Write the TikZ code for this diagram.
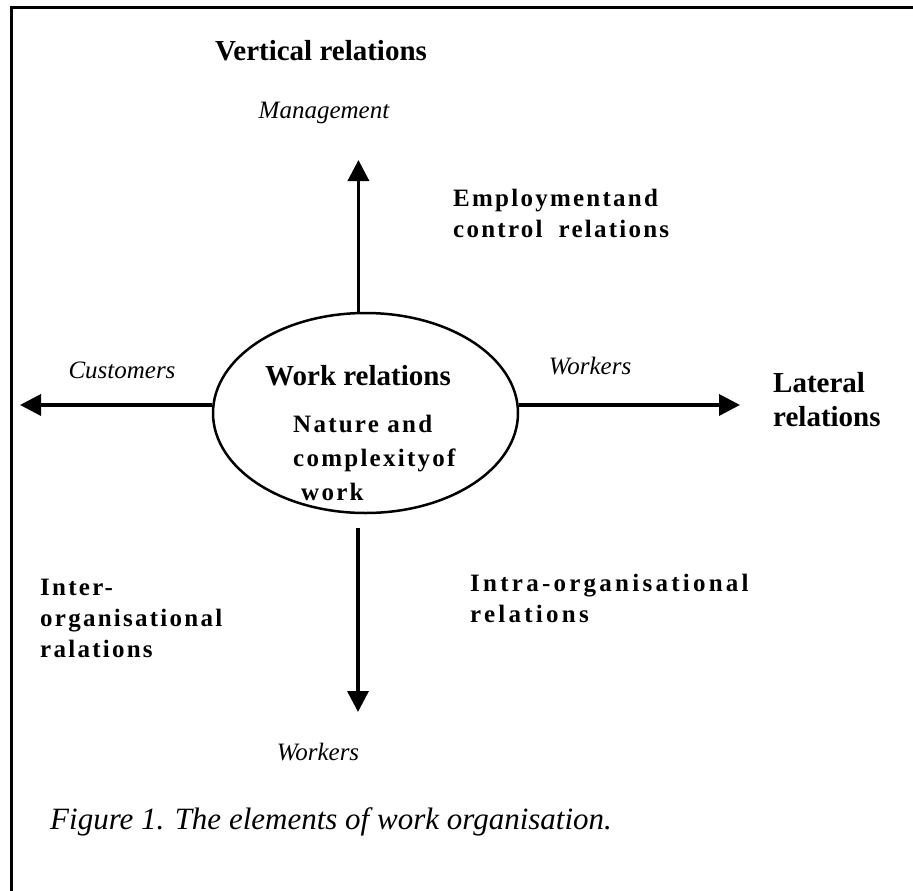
\documentclass[tikz,border=0pt]{standalone}
\usepackage{fontspec}
\setmainfont{Liberation Serif}
\newfontfamily\spacedfont{Liberation Serif}[LetterSpace=9]
\newfontfamily\widefont{Liberation Serif}[LetterSpace=13]
\usepackage{tikz}
\usetikzlibrary{shapes.geometric, arrows.meta, positioning, calc}

\begin{document}
\begin{tikzpicture}[
  x=1pt, y=-1pt,
  heading/.style={font=\fontsize{29}{34}\selectfont\bfseries, inner sep=0pt, align=left},
  party/.style={font=\fontsize{25}{30}\selectfont\itshape, inner sep=0pt},
  relbox/.style={font=\fontsize{25}{31}\selectfont\spacedfont\bfseries, inner sep=0pt, align=left},
  core/.style={draw, ellipse, line width=2.5pt, minimum width=305pt, minimum height=200pt, inner sep=0pt},
  arrow/.style={-{Triangle[length=21pt,width=21pt]}, line width=3.5pt},
  frame/.style={line width=3pt},
]
\useasboundingbox (0,0) rectangle (913,891);

% Frame (top and left edges only)
\draw[frame] (11.5,891) |- (913,7.5);

% Centre: work relations
\node[core] (work) at (365.5,413) {};
\node[heading] (worktitle) at (358,376) {Work relations};
\node[relbox, anchor=west, font=\fontsize{25}{34}\selectfont\spacedfont\bfseries]
  (nature) at (293,458) {Nature and\\complexityof\\\hspace*{8pt}work};

% Axis ends
\coordinate (toptip)  at (358,160);
\coordinate (lefttip) at (20,405);
\coordinate (righttip) at (740,405);
\coordinate (downstart) at (358,528);
\coordinate (downtip)  at (358,712);

% Axis labels
\node[heading] (vertical) at (321,51) {Vertical relations};
\node[party] (mgmt) at (324,113) {Management};
\node[party] (cust) at (122,370) {Customers};
\node[party] (latworkers) at (590,366) {Workers};
\node[heading, anchor=west] (lateral) at (773,400) {Lateral\\relations};
\node[party] (lowworkers) at (318,752) {Workers};

% Relation types in the quadrants
\node[relbox, anchor=west] (employ) at (453,213) {Employmentand\\control\hspace{16pt}relations};
\node[relbox, anchor=west, font=\fontsize{25}{31}\selectfont\widefont\bfseries]
  (intra) at (470,598) {Intra-organisational\\relations};
\node[relbox, anchor=west] (inter) at (40,618) {Inter-\\organisational\\ralations};

% Arrows
\draw[arrow] (work.94) -- (work.94 |- toptip);
\draw[arrow] (work.177) -- (work.177 -| lefttip);
\draw[arrow] (work.3) -- (work.3 -| righttip);
\draw[arrow] (downstart) -- (downtip);

% Caption
\node[party, anchor=west, font=\fontsize{31}{36}\selectfont\itshape]
  (caption) at (50,822) {Figure 1. The elements of work organisation.};
\end{tikzpicture}
\end{document}
